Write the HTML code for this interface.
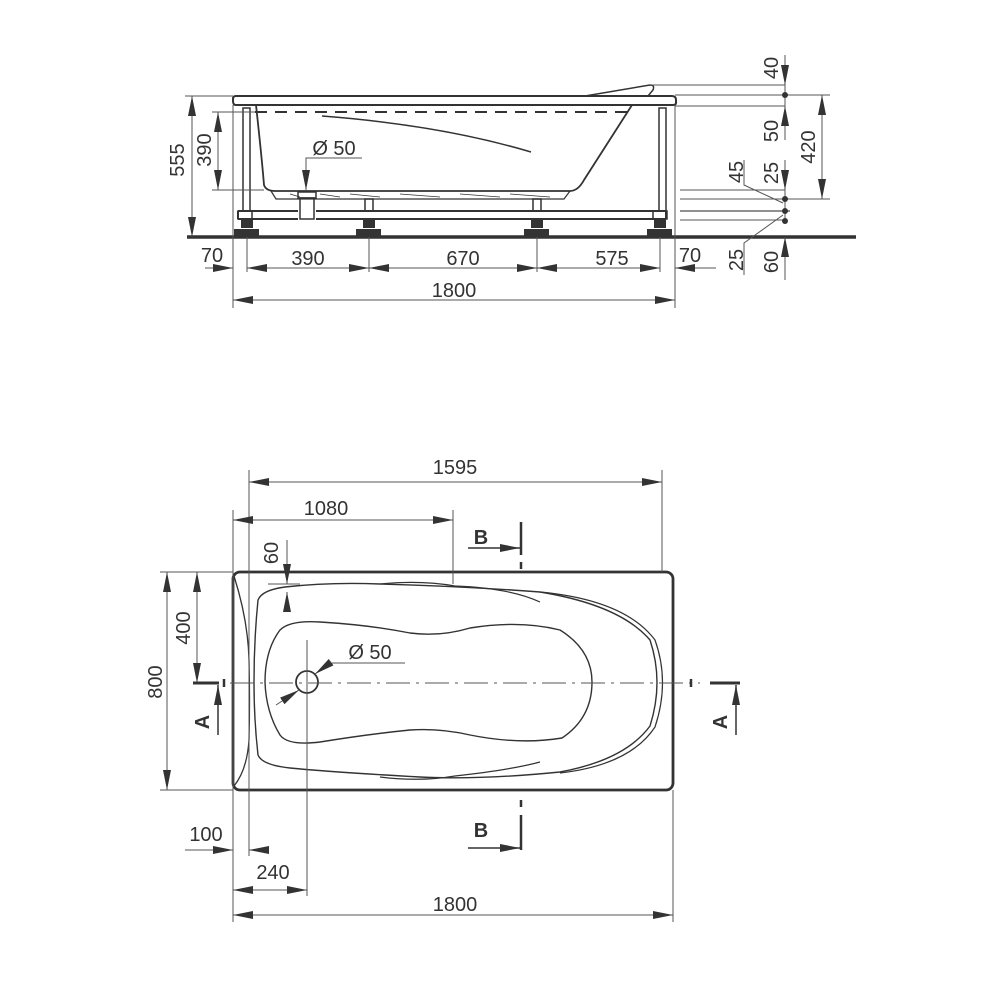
<!DOCTYPE html>
<html><head><meta charset="utf-8"><style>html,body{margin:0;padding:0;background:#fff}svg{display:block}</style></head>
<body>
<svg width="1000" height="1000" viewBox="0 0 1000 1000" xmlns="http://www.w3.org/2000/svg" font-family="Liberation Sans, Arial, sans-serif" font-size="20" fill="none" stroke="#333">
<defs>
<marker id="a" viewBox="0 0 20 8" refX="20" refY="4" markerWidth="20" markerHeight="8" markerUnits="userSpaceOnUse" orient="auto-start-reverse"><path d="M0 0L20 4L0 8z" fill="#333" stroke="none"/></marker>
</defs>
<!-- ===== SIDE VIEW ===== -->
<g stroke-width="1.3">
<!-- floor -->
<line x1="187" y1="237" x2="856" y2="237" stroke-width="3.5"/>
<!-- rim -->
<path d="M236 96 H672 Q676 96 676 100 V103 Q676 105 672 105 H236 Q233 105 233 101 V99 Q233 96 236 96Z" stroke-width="2"/>
<path d="M585 96 L650 85 Q655 85 653 90 L648 96" stroke-width="1.5"/>
<line x1="255" y1="112" x2="632" y2="112" stroke-width="2" stroke-dasharray="12 8"/>
<!-- tub -->
<path d="M256 105 Q262 160 264 185 Q266 191 275 191 H570 Q578 191 584 180 L632 105" stroke-width="1.8"/>
<path d="M322 116 Q440 125 531 152" stroke-width="1.5"/>
<path d="M271 191 L276 199 H564 L570 191" stroke-width="1.2"/>
<path d="M290 194 L300 197 M320 194 L340 197 M350 194 L380 197 M400 194 L440 197 M460 194 L500 197 M510 194 L550 197" stroke-width="0.8"/>
<!-- drain -->
<rect x="298" y="192" width="18" height="6" stroke-width="1.5"/>
<rect x="300" y="198" width="14" height="21" stroke-width="1.5"/>
<!-- legs -->
<rect x="243" y="108" width="7" height="103" stroke-width="1.5"/>
<rect x="659" y="108" width="7" height="103" stroke-width="1.5"/>
<!-- frame -->
<path d="M238 211 H298 M316 211 H666 M238 219 H298 M316 219 H666 M238 211 V219 M666 211 V219" stroke-width="2"/>
<rect x="238" y="211" width="14" height="8" stroke-width="1.5"/>
<rect x="653" y="211" width="14" height="8" stroke-width="1.5"/>
<rect x="365" y="199" width="8" height="12" stroke-width="1.5"/>
<rect x="533" y="199" width="8" height="12" stroke-width="1.5"/>
</g>
<!-- feet -->
<g fill="#333" stroke="none">
<rect x="241" y="220" width="12" height="8"/><rect x="234" y="229" width="25" height="8"/>
<rect x="363" y="220" width="12" height="8"/><rect x="356" y="229" width="25" height="8"/>
<rect x="531" y="220" width="12" height="8"/><rect x="524" y="229" width="25" height="8"/>
<rect x="654" y="220" width="12" height="8"/><rect x="647" y="229" width="25" height="8"/>
</g>
<!-- side dims -->
<g stroke-width="1" stroke="#555">
<line x1="233" y1="105" x2="233" y2="308"/>
<line x1="675" y1="105" x2="675" y2="308"/>
<line x1="247" y1="237" x2="247" y2="272"/>
<line x1="369" y1="237" x2="369" y2="272"/>
<line x1="537" y1="237" x2="537" y2="272"/>
<line x1="660" y1="237" x2="660" y2="272"/>
<line x1="205" y1="268" x2="233" y2="268" marker-end="url(#a)"/>
<line x1="247" y1="268" x2="369" y2="268" marker-start="url(#a)" marker-end="url(#a)"/>
<line x1="369" y1="268" x2="537" y2="268" marker-start="url(#a)" marker-end="url(#a)"/>
<line x1="537" y1="268" x2="660" y2="268" marker-start="url(#a)" marker-end="url(#a)"/>
<line x1="716" y1="268" x2="675" y2="268" marker-end="url(#a)"/>
<line x1="233" y1="300" x2="675" y2="300" marker-start="url(#a)" marker-end="url(#a)"/>
<line x1="185" y1="96" x2="233" y2="96"/>
<line x1="192" y1="96" x2="192" y2="237" marker-start="url(#a)" marker-end="url(#a)"/>
<line x1="212" y1="112" x2="255" y2="112"/>
<line x1="212" y1="190" x2="264" y2="190"/>
<line x1="218" y1="112" x2="218" y2="190" marker-start="url(#a)" marker-end="url(#a)"/>
<polyline points="362,158 306,158 306,190" marker-end="url(#a)"/>
<!-- right stack -->
<line x1="650" y1="85" x2="785" y2="85"/>
<line x1="675" y1="95" x2="830" y2="95"/>
<line x1="675" y1="106" x2="785" y2="106"/>
<line x1="680" y1="190" x2="785" y2="190"/>
<line x1="680" y1="199" x2="830" y2="199"/>
<line x1="680" y1="211" x2="790" y2="211" stroke="#222"/>
<line x1="680" y1="220" x2="785" y2="220"/>
<line x1="785" y1="55" x2="785" y2="85" marker-end="url(#a)"/>
<line x1="785" y1="85" x2="785" y2="140"/>
<line x1="785" y1="140" x2="785" y2="106" marker-end="url(#a)"/>
<line x1="785" y1="160" x2="785" y2="190" marker-end="url(#a)"/>
<line x1="785" y1="190" x2="785" y2="222"/>
<line x1="785" y1="280" x2="785" y2="237" marker-end="url(#a)"/>
<line x1="822" y1="95" x2="822" y2="199" marker-start="url(#a)" marker-end="url(#a)"/>
<polyline points="744,160 744,185 783,203"/>
<polyline points="744,275 744,243 783,215"/>
</g>
<g fill="#333" stroke="none">
<circle cx="785" cy="95" r="3"/><circle cx="785" cy="199" r="3"/><circle cx="785" cy="211" r="3"/><circle cx="785" cy="221" r="3"/>
</g>
<g fill="#333" stroke="none" text-anchor="middle">
<text x="212" y="262">70</text>
<text x="308" y="265">390</text>
<text x="463" y="265">670</text>
<text x="612" y="265">575</text>
<text x="690" y="262">70</text>
<text x="454" y="297">1800</text>
<text x="334" y="155">Ø 50</text>
<text transform="translate(184 160) rotate(-90)">555</text>
<text transform="translate(211 150) rotate(-90)">390</text>
<text transform="translate(778 68) rotate(-90)">40</text>
<text transform="translate(778 131) rotate(-90)">50</text>
<text transform="translate(778 173) rotate(-90)">25</text>
<text transform="translate(743 172) rotate(-90)">45</text>
<text transform="translate(743 260) rotate(-90)">25</text>
<text transform="translate(778 262) rotate(-90)">60</text>
<text transform="translate(815 147) rotate(-90)">420</text>
</g>
<!-- ===== TOP VIEW ===== -->
<g stroke-width="1.3">
<rect x="233" y="572" width="440" height="218" rx="7" stroke-width="2.8"/>
<path d="M234 576 Q248 620 249 660 Q250 700 249 740 Q247 770 234 786" stroke-width="1.3"/>
<path d="M258 600 Q262 590 285 587 Q330 582 380 584 Q460 586 540 592 Q620 605 650 640 Q664 682 650 726 Q625 760 560 772 Q480 780 420 777 Q330 772 290 768 Q262 765 258 755 Q254 720 254 682 Q254 640 258 600Z" stroke-width="1.4"/>
<path d="M540 592 Q625 600 655 640 Q670 682 655 727 Q630 765 560 773" stroke-width="1.2"/>
<path d="M380 584 Q420 580 455 586 Q510 588 540 602" stroke-width="1.2"/>
<path d="M380 777 Q420 782 455 776 Q510 770 540 762" stroke-width="1.2"/>
<path d="M280 630 Q290 620 320 622 Q370 625 410 633 Q440 637 470 628 Q520 620 560 630 Q592 650 592 682 Q592 718 562 738 Q520 745 470 735 Q440 728 410 730 Q370 734 320 742 Q288 746 280 735 Q266 712 265 682 Q265 650 280 630Z" stroke-width="1.4"/>
<circle cx="307" cy="682" r="11" stroke-width="1.8"/>
</g>
<g stroke-width="1" stroke="#555">
<line x1="230" y1="683" x2="700" y2="683" stroke-dasharray="24 6 3 6"/>
<line x1="249" y1="470" x2="249" y2="856"/>
<line x1="662" y1="470" x2="662" y2="572"/>
<line x1="233" y1="510" x2="233" y2="922"/>
<line x1="673" y1="790" x2="673" y2="922"/>
<line x1="453" y1="510" x2="453" y2="584"/>
<line x1="307" y1="640" x2="307" y2="896"/>
<line x1="249" y1="482" x2="662" y2="482" marker-start="url(#a)" marker-end="url(#a)"/>
<line x1="233" y1="520" x2="453" y2="520" marker-start="url(#a)" marker-end="url(#a)"/>
<line x1="233" y1="915" x2="673" y2="915" marker-start="url(#a)" marker-end="url(#a)"/>
<line x1="233" y1="890" x2="307" y2="890" marker-start="url(#a)" marker-end="url(#a)"/>
<line x1="185" y1="850" x2="233" y2="850" marker-end="url(#a)"/>
<line x1="266" y1="850" x2="249" y2="850" marker-end="url(#a)"/>
<line x1="160" y1="572" x2="233" y2="572"/>
<line x1="160" y1="790" x2="233" y2="790"/>
<line x1="167" y1="572" x2="167" y2="790" marker-start="url(#a)" marker-end="url(#a)"/>
<line x1="197" y1="572" x2="197" y2="683" marker-start="url(#a)" marker-end="url(#a)"/>
<line x1="285" y1="585" x2="540" y2="585" stroke="none"/>
<line x1="268" y1="584" x2="300" y2="584"/>
<line x1="287" y1="540" x2="287" y2="584" marker-end="url(#a)"/>
<line x1="287" y1="612" x2="287" y2="592" marker-end="url(#a)"/>
<line x1="405" y1="663" x2="330" y2="663"/>
<polyline points="330,663 315,674" marker-end="url(#a)"/>
<line x1="276" y1="705" x2="299" y2="690" marker-end="url(#a)"/>
</g>
<!-- section marks -->
<g stroke="#333" stroke-width="1.5">
<line x1="193" y1="683" x2="219" y2="683" stroke-width="3"/>
<line x1="218" y1="735" x2="218" y2="685" marker-end="url(#a)"/>
<line x1="710" y1="683" x2="740" y2="683" stroke-width="3"/>
<line x1="736" y1="735" x2="736" y2="685" marker-end="url(#a)"/>
<line x1="468" y1="548" x2="520" y2="548" marker-end="url(#a)"/>
<line x1="521" y1="522" x2="521" y2="555" stroke-width="2.5"/>
<line x1="468" y1="848" x2="520" y2="848" marker-end="url(#a)"/>
<line x1="521" y1="815" x2="521" y2="850" stroke-width="2.5"/>
<line x1="521" y1="562" x2="521" y2="569" stroke-width="2.5"/>
<line x1="521" y1="800" x2="521" y2="807" stroke-width="2.5"/>
<line x1="691" y1="679" x2="691" y2="687" stroke-width="2.5"/>
<line x1="224" y1="679" x2="224" y2="687" stroke-width="2.5"/>
</g>
<g fill="#333" stroke="none" text-anchor="middle">
<text x="455" y="474">1595</text>
<text x="326" y="515">1080</text>
<text x="455" y="911">1800</text>
<text x="273" y="879">240</text>
<text x="206" y="841">100</text>
<text x="370" y="659">Ø 50</text>
<text transform="translate(278 553) rotate(-90)">60</text>
<text transform="translate(190 628) rotate(-90)">400</text>
<text transform="translate(162 682) rotate(-90)">800</text>
<text x="481" y="544" font-weight="bold">B</text>
<text x="481" y="837" font-weight="bold">B</text>
<text transform="translate(209 722) rotate(-90)" font-weight="bold">A</text>
<text transform="translate(727 722) rotate(-90)" font-weight="bold">A</text>
</g>
</svg>
</body></html>
